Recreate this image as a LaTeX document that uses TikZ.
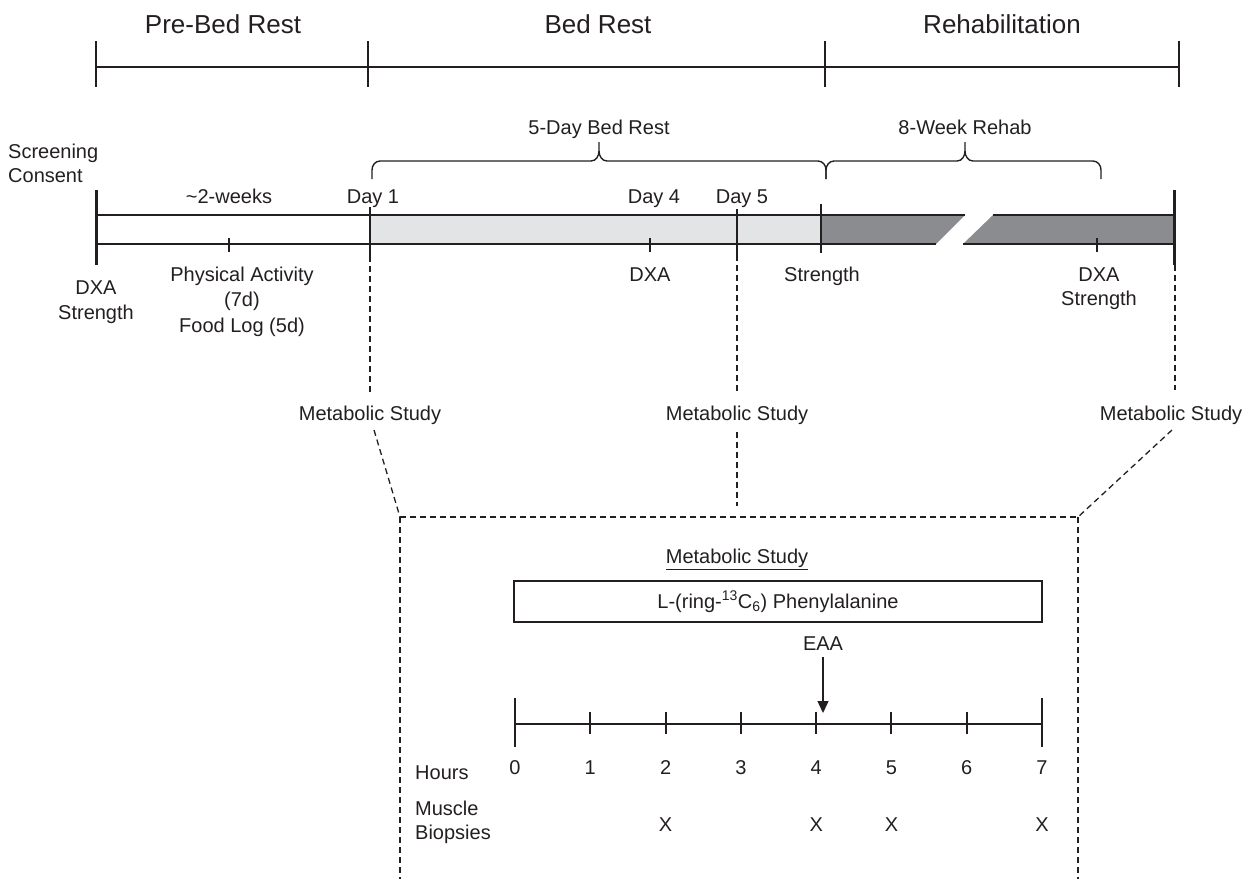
\documentclass[tikz,border=0pt]{standalone}
\usepackage{fontspec}
\setmainfont{Liberation Sans}
\usetikzlibrary{arrows.meta}
\definecolor{ink}{HTML}{231F20}
\definecolor{lightbar}{HTML}{E3E4E6}
\definecolor{darkbar}{HTML}{8B8C8F}
\begin{document}
\begin{tikzpicture}[x=1pt,y=-1pt,
  lbl/.style={inner sep=0pt, text height=14.3pt, text depth=0pt, font=\fontsize{20}{24}\selectfont, text=ink},
  hdr/.style={inner sep=0pt, text height=18.6pt, text depth=0pt, font=\fontsize{26}{30}\selectfont, text=ink},
  tl/.style={draw=ink, line width=1.5pt},
  tickline/.style={draw=ink, line width=2pt},
  thicktick/.style={draw=ink, line width=3pt},
  dashline/.style={draw=ink, line width=1.3pt, dash pattern=on 6pt off 4pt},
  bracestyle/.style={draw=ink, line width=1.4pt}
]
\useasboundingbox (0,0) rectangle (1255,879);

% ---------- header ----------
\node[hdr] (hpre) at (223,24) {Pre-Bed Rest};
\node[hdr] (hbed) at (598,24) {Bed Rest};
\node[hdr] (hreh) at (1002,24) {Rehabilitation};
\coordinate (h0) at (96,67);
\coordinate (h3) at (1179,67);
\draw[tl] (h0) -- (h3);
\foreach \x in {96,368,825,1179} \draw[tl] (\x,41) -- (\x,87);

% ---------- braces ----------
\node[lbl] (b5) at (599,127) {5-Day Bed Rest};
\node[lbl] (b8) at (965,127) {8-Week Rehab};
\draw[bracestyle] (372,179) -- (372,170) to[out=90,in=180] (380,161) -- (591,161)
  to[out=0,in=-90] (599,151) -- (599,142) -- (599,151) to[out=-90,in=180] (607,161)
  -- (818,161) to[out=0,in=90] (826,170) -- (826,179);
\draw[bracestyle] (826,179) -- (826,170) to[out=90,in=180] (834,161) -- (957,161)
  to[out=0,in=-90] (965,151) -- (965,142) -- (965,151) to[out=-90,in=180] (973,161)
  -- (1093,161) to[out=0,in=90] (1101,170) -- (1101,179);

% ---------- main timeline bar ----------
\fill[white] (96,215) rectangle (370,244);
\fill[lightbar] (370,215) rectangle (821,244);
\fill[darkbar] (821,215) -- (965,215) -- (936,244) -- (821,244) -- cycle;
\fill[darkbar] (993,215) -- (1174,215) -- (1174,244) -- (963,244) -- cycle;
\draw[tl] (96,215) -- (965,215) (993,215) -- (1174,215);
\draw[tl] (96,244) -- (936,244) (963,244) -- (1174,244);

% ticks
\draw[thicktick] (96,190) -- (96,265);
\draw[thicktick] (1174,190) -- (1174,265);
\draw[tickline] (370,207) -- (370,256);
\draw[tickline] (737,209) -- (737,255);
\draw[tickline] (821,204) -- (821,253);
\foreach \x in {229,650,1097} \draw[tickline] (\x,238) -- (\x,252);

% labels above bar
\node[lbl, anchor=west] (scr1) at (8,151) {Screening};
\node[lbl, anchor=west] (scr2) at (8,175) {Consent};
\node[lbl] (twow) at (229,196) {\textasciitilde2-weeks};
\node[lbl] (d1) at (373,196) {Day 1};
\node[lbl] (d4) at (654,196) {Day 4};
\node[lbl] (d5) at (742,196) {Day 5};

% labels below bar
\node[lbl] (ldxa) at (96,287) {DXA};
\node[lbl] (lstr) at (96,312) {Strength};
\node[lbl] (pa1) at (242,274) {Physical Activity};
\node[lbl] (pa2) at (242,299) {(7d)};
\node[lbl] (pa3) at (242,325) {Food Log (5d)};
\node[lbl] (mdxa) at (650,274) {DXA};
\node[lbl] (mstr) at (822,274) {Strength};
\node[lbl] (rdxa) at (1099,274) {DXA};
\node[lbl] (rstr) at (1099,298) {Strength};

% ---------- metabolic study call-outs ----------
\node[lbl] (ms1) at (370,413) {Metabolic Study};
\node[lbl] (ms2) at (737,413) {Metabolic Study};
\node[lbl] (ms3) at (1171,413) {Metabolic Study};
\draw[dashline] (370,256) -- (370,392);
\draw[dashline] (737,255) -- (737,392);
\draw[dashline] (737,432) -- (737,506);
\draw[dashline] (1175,265) -- (1175,390);

\coordinate (bxtl) at (400,517);
\coordinate (bxtr) at (1078,517);
\draw[dashline] (374,430) -- (bxtl);
\draw[dashline] (1172,430) -- (bxtr);
\draw[dashline] (bxtl) -- (bxtr);
\draw[dashline] (bxtl) -- (400,879);
\draw[dashline] (bxtr) -- (1078,879);

% ---------- metabolic study detail ----------
\node[lbl] (mstitle) at (737,556) {\underline{Metabolic Study}};
\node[draw=ink, line width=1.5pt, minimum width=528pt, minimum height=41pt, inner sep=0pt,
      font=\fontsize{20}{24}\selectfont, text=ink] (phe) at (778,601.5)
      {L-(ring-\textsuperscript{13}C\textsubscript{6}) Phenylalanine};
\node[lbl] (eaa) at (823,643) {EAA};
\coordinate (eaatip) at (823,713);
\draw[draw=ink, line width=1.3pt, -{Triangle[width=11pt,length=12pt]}] (823,657) -- (eaatip);

\draw[tl, line width=2pt] (515,724) -- (1042,724);
\draw[tickline] (515,698) -- (515,747);
\draw[tickline] (1042,698) -- (1042,747);
\foreach \i in {1,...,6} \draw[tickline] ({515+75.29*\i},712) -- ({515+75.29*\i},734);
\foreach \i in {0,...,7} \node[lbl] (n\i) at ({515+75.29*\i},767) {\i};

\node[lbl, anchor=west] (hours) at (415,772) {Hours};
\node[lbl, anchor=west] (musc) at (415,808) {Muscle};
\node[lbl, anchor=west] (biop) at (415,832) {Biopsies};
\foreach \i in {2,4,5,7} \node[lbl] (x\i) at ({515+75.29*\i},824) {X};
\end{tikzpicture}
\end{document}
